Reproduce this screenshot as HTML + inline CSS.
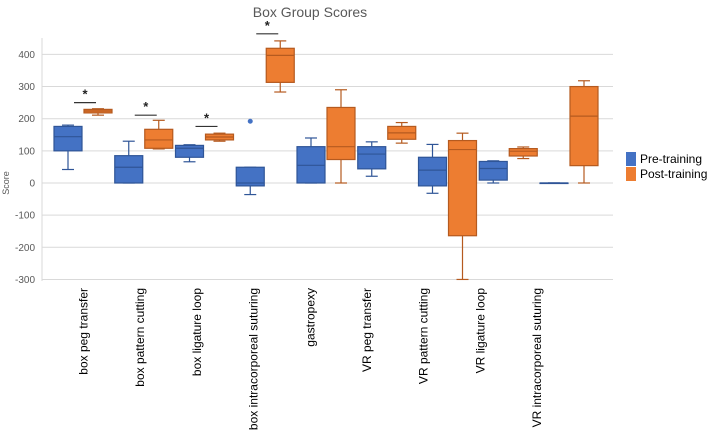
<!DOCTYPE html>
<html><head><meta charset="utf-8"><style>
body{margin:0;background:#fff;}
svg{display:block;font-family:"Liberation Sans",sans-serif;}
</style></head><body>
<svg id="chart" width="709" height="432"></svg>
<script>
const categories=["box peg transfer","box pattern cutting","box ligature loop","box intracorporeal suturing","gastropexy","VR peg transfer","VR pattern cutting","VR ligature loop","VR intracorporeal suturing"];
// [min,q1,median,q3,max]
const preValues=[[42,100,144,176,180],[0,0,49,85,130],[66,80,108,117,119],[-36,-9,0,49,49],[0,0,55,113,140],[21,44,90,113,128],[-32,-9,40,80,120],[0,9,45,67,69],[0,0,0,0,0]];
const postValues=[[211,218,224,229,231],[106,108,134,167,195],[130,134,143,152,155],[283,313,397,419,442],[0,73,113,235,290],[124,136,156,176,188],[-300,-164,104,132,155],[76,84,99,107,112],[0,54,208,300,318]];
const preOutliers=[[3,192]];
const sigGroups=[0,1,2,3];
const sigLevels=[250,211,176,464];
const yTicks=[-300,-200,-100,0,100,200,300,400];

const svg=document.getElementById('chart');
const NS='http://www.w3.org/2000/svg';
function y(v){return 183-v*0.3215;}
function gx(i){return 83+60.75*i;}
function mk(tag,attrs,parent){const e=document.createElementNS(NS,tag);for(const k in attrs)e.setAttribute(k,attrs[k]);(parent||svg).appendChild(e);return e;}

const t=mk('text',{x:310,y:17,'text-anchor':'middle','font-size':14,fill:'#595959'});
t.textContent='Box Group Scores';



yTicks.forEach(v=>{
  const l=mk('line',{x1:42,x2:613,y1:y(v),y2:y(v),stroke:'#d9d9d9','stroke-width':1});
  
  
  const tx=mk('text',{x:35,y:y(v)+3.5,'text-anchor':'end','font-size':10,fill:'#595959'});
  tx.textContent=v;
  
  
});
const ax=mk('line',{x1:42,x2:42,y1:38,y2:281,stroke:'#d9d9d9'});


const yt=mk('text',{x:0,y:0,transform:'translate(9,183) rotate(-90)','text-anchor':'middle','font-size':9,fill:'#595959'});
yt.textContent='Score';



function box(cx,d,fill,stroke,name){
  const g=mk('g',{});
  
  
  const w=28;
  mk('line',{x1:cx,x2:cx,y1:y(d[4]),y2:y(d[3]),stroke:stroke,'stroke-width':1.2},g);
  mk('line',{x1:cx,x2:cx,y1:y(d[1]),y2:y(d[0]),stroke:stroke,'stroke-width':1.2},g);
  mk('line',{x1:cx-6,x2:cx+6,y1:y(d[4]),y2:y(d[4]),stroke:stroke,'stroke-width':1.2},g);
  mk('line',{x1:cx-6,x2:cx+6,y1:y(d[0]),y2:y(d[0]),stroke:stroke,'stroke-width':1.2},g);
  const h=Math.max(y(d[1])-y(d[3]),0.5);
  mk('rect',{x:cx-w/2,y:y(d[3]),width:w,height:h,fill:fill,stroke:stroke,'stroke-width':1.2},g);
  mk('line',{x1:cx-w/2,x2:cx+w/2,y1:y(d[2]),y2:y(d[2]),stroke:stroke,'stroke-width':1.2},g);
}
categories.forEach((c,i)=>{
  box(gx(i)-15,preValues[i],'#4472C4','#2F5597','pre-training-box');
  box(gx(i)+15,postValues[i],'#ED7D31','#B55A1F','post-training-box');
  const lx=83+56.7*i;
  const lt=mk('text',{x:0,y:0,transform:`translate(${lx+4.5},288) rotate(-90)`,'text-anchor':'end','font-size':12,fill:'#000'});
  lt.textContent=c;
  
  
});
preOutliers.forEach(o=>{
  const c=mk('circle',{cx:gx(o[0])-15,cy:y(o[1]),r:2.5,fill:'#4472C4'});
  
  
});
sigGroups.forEach((g,k)=>{
  const yy=y(sigLevels[k]);
  const l=mk('line',{x1:gx(g)-9,x2:gx(g)+13,y1:yy,y2:yy,stroke:'#333','stroke-width':1.2});
  
  
  const s=mk('text',{x:gx(g)+2,y:yy-4,'text-anchor':'middle','font-size':13,'font-weight':'bold',fill:'#222'});
  s.textContent='*';
  
  
});
[['Pre-training','#4472C4',152],['Post-training','#ED7D31',167]].forEach(([n,c,yy])=>{
  const g=mk('g',{});
  
  
  mk('rect',{x:626,y:yy,width:10,height:14,fill:c},g);
  const tx=mk('text',{x:640,y:yy+11,'font-size':12,fill:'#000'},g);
  tx.textContent=n;
});
</script>
</body></html>
